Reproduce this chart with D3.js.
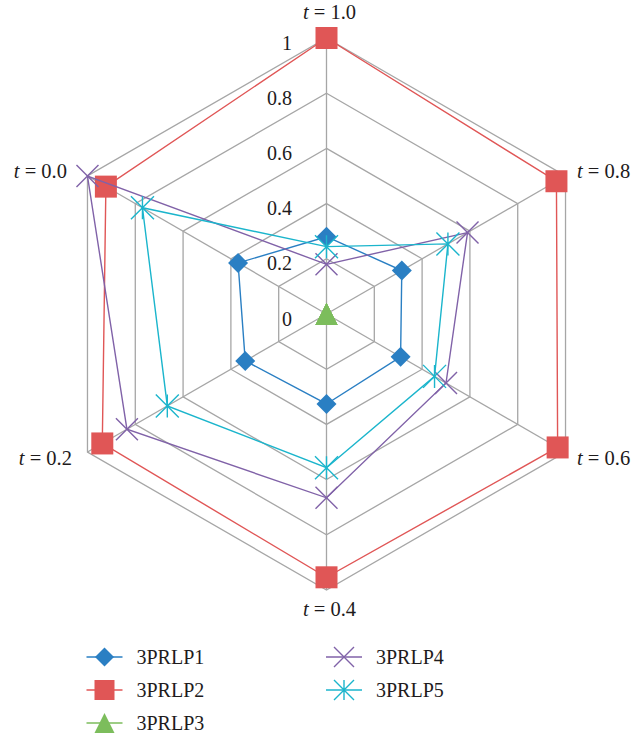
<!DOCTYPE html>
<html>
<head>
<meta charset="utf-8">
<script src="https://cdn.jsdelivr.net/npm/d3@7"></script>
<style>
  html, body { margin: 0; padding: 0; background: #fff; }
  svg { display: block; }
  text { font-family: "Liberation Serif", "Times New Roman", "DejaVu Serif", serif; fill: #1e1b1c; }
</style>
</head>
<body>
<svg id="chart" width="631" height="737"></svg>
<script>
// ---- data ----
const tValues = ["1.0", "0.8", "0.6", "0.4", "0.2", "0.0"];   // axes, clockwise from top
const seriesNames = ["3PRLP1", "3PRLP2", "3PRLP3", "3PRLP4", "3PRLP5"];
const p1 = [0.28, 0.315, 0.31, 0.326, 0.34, 0.37];
const p2 = [1.0, 0.962, 0.967, 0.954, 0.938, 0.923];
const p3 = [0, 0, 0, 0, 0, 0];
const p4 = [0.18, 0.59, 0.50, 0.666, 0.835, 1.0];
const p5 = [0.244, 0.508, 0.452, 0.557, 0.666, 0.77];
const tickValues = [0, 0.2, 0.4, 0.6, 0.8, 1];
const tickLabels = ["0", "0.2", "0.4", "0.6", "0.8", "1"];
const seriesColors = ["#2a7fc3", "#e05656", "#7cbd5c", "#8062a8", "#1bb5cc"];
const seriesMarkers = ["diamond", "square", "triangle", "x", "star"];

const allSeries = [p1, p2, p3, p4, p5].map((v, i) => ({
  name: seriesNames[i], values: v, color: seriesColors[i], marker: seriesMarkers[i]
}));

const svg = d3.select("#chart");
const cx = 326.5, cy = 314, R = 276;
const r = d3.scaleLinear().domain([0, 1]).range([0, R]);
const ang = d3.scaleLinear().domain([0, tValues.length]).range([0, 2 * Math.PI]);
const px = (i, v) => cx + r(v) * Math.sin(ang(i));
const py = (i, v) => cy - r(v) * Math.cos(ang(i));

const g = svg.append("g");

// grid hexagons
const gridColor = "#a6a6a6";
tickValues.filter(t => t > 0).forEach(t => {
  const pts = tValues.map((_, i) => [px(i, t), py(i, t)]);
  g.append("path")
    .attr("d", d3.line().curve(d3.curveLinearClosed)(pts))
    .attr("fill", "none").attr("stroke", gridColor).attr("stroke-width", 1.3);
});
// spokes
tValues.forEach((_, i) => {
  g.append("line")
    .attr("x1", cx).attr("y1", cy)
    .attr("x2", px(i, 1)).attr("y2", py(i, 1))
    .attr("stroke", gridColor).attr("stroke-width", 1.3);
});

// radial tick labels
tickValues.forEach((t, k) => {
  g.append("text")
    .attr("x", cx - 34.5).attr("y", cy - r(t) + 11.5)
    .attr("text-anchor", "end")
    .attr("font-size", 20)
    .text(tickLabels[k]);
});

// axis labels
tValues.forEach((tv, i) => {
  const vx = px(i, 1), vy = py(i, 1);
  const a = ang(i);
  const s = Math.sin(a), c = Math.cos(a);
  let x, y, anchor;
  if (Math.abs(s) < 1e-6) {
    anchor = "middle";
    x = vx + 3;
    y = c > 0 ? vy - 19 : vy + 26;
  } else if (s > 0) {
    anchor = "start"; x = vx + 11.5; y = vy + 7.5 - 11 * c;
  } else {
    anchor = "end"; x = vx - 20.5 + (c < 0 ? 5 : 0); y = vy + 7.5 - 11 * c;
  }
  const txt = g.append("text")
    .attr("x", x).attr("y", y).attr("text-anchor", anchor).attr("font-size", 20.5);
  txt.append("tspan").attr("font-style", "italic").text("t");
  txt.append("tspan").text(" = " + tv);
});

// marker drawing
function drawMarker(sel, type, color, x, y, size) {
  const h = size / 2;
  if (type === "diamond") {
    sel.append("path")
      .attr("d", `M${x},${y - h}L${x + h},${y}L${x},${y + h}L${x - h},${y}Z`)
      .attr("fill", color);
  } else if (type === "square") {
    sel.append("rect")
      .attr("x", x - h).attr("y", y - h).attr("width", size).attr("height", size)
      .attr("fill", color);
  } else if (type === "triangle") {
    sel.append("path")
      .attr("d", `M${x},${y - h}L${x + h},${y + h}L${x - h},${y + h}Z`)
      .attr("fill", color);
  } else if (type === "x" || type === "star") {
    const d = [`M${x - h},${y - h}L${x + h},${y + h}`, `M${x - h},${y + h}L${x + h},${y - h}`];
    if (type === "star") d.push(`M${x},${y - h}L${x},${y + h}`);
    sel.append("path").attr("d", d.join(""))
      .attr("stroke", color).attr("stroke-width", 1.4).attr("fill", "none");
  }
}

const markerSize = { diamond: 20, square: 22, triangle: 22, x: 22, star: 23 };

const radial = d3.lineRadial()
  .angle((d, i) => ang(i))
  .radius(d => r(d))
  .curve(d3.curveLinearClosed);

allSeries.forEach(s => {
  const sg = g.append("g");
  sg.append("path")
    .attr("transform", `translate(${cx},${cy})`)
    .attr("d", radial(s.values))
    .attr("fill", "none").attr("stroke", s.color).attr("stroke-width", 1.4);
  s.values.forEach((v, i) => {
    drawMarker(sg, s.marker, s.color, px(i, v), py(i, v), markerSize[s.marker]);
  });
});

// legend
const legendPos = [[86.5, 657], [86.5, 690], [86.5, 723], [326, 657], [326, 690]];
const legendMarkerSize = { diamond: 19, square: 20, triangle: 20, x: 20, star: 20 };
allSeries.forEach((s, k) => {
  const [lx, ly] = legendPos[k];
  const lg = svg.append("g");
  lg.append("line").attr("x1", lx).attr("x2", lx + 36).attr("y1", ly).attr("y2", ly)
    .attr("stroke", s.color).attr("stroke-width", 1.4);
  drawMarker(lg, s.marker, s.color, lx + 18, ly, legendMarkerSize[s.marker]);
  lg.append("text").attr("x", lx + 50).attr("y", ly + 7)
    .attr("font-size", 20).text(s.name);
});
</script>
</body>
</html>
